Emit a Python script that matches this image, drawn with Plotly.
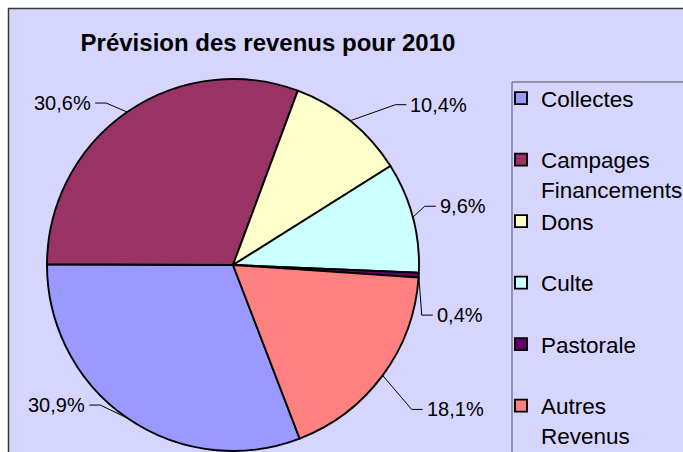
import math
import plotly.graph_objects as go

# ---- data ----
categories = ["Collectes", "Campages Financements", "Dons", "Culte", "Pastorale", "Autres Revenus"]
values = [30.9, 30.6, 10.4, 9.6, 0.4, 18.1]
title_text = "Prévision des revenus pour 2010"

# ---- style ----
colors = ["#9999FF", "#993366", "#FFFFCC", "#CCFFFF", "#660066", "#FF8080"]
legend_text = ["Collectes<br> ", "Campages<br>Financements", "Dons<br> ", "Culte<br> ",
               "Pastorale<br> ", "Autres<br>Revenus"]
# leader-line elbow offsets (px) from slice edge, like manually placed Excel labels
elbow_offsets = [(-27, -13), (-21, -9), (45, -16), (12, -11), (3, 40), (29, 34)]
W, H = 683, 452
BG = "#D5D5FD"
FONT = "Liberation Sans, Arial, sans-serif"
ROTATION = 159

# pie domain (pixels)
px_x0, px_x1, px_y0, px_y1 = 47, 419, 79, 451
cx = (px_x0 + px_x1) / 2
cy = (px_y0 + px_y1) / 2
R = min(px_x1 - px_x0, px_y1 - px_y0) / 2

fig = go.Figure(go.Pie(
    labels=legend_text,
    values=values,
    sort=False,
    direction="clockwise",
    rotation=ROTATION,
    marker=dict(colors=colors, line=dict(color="black", width=1.9)),
    textinfo="none",
    hoverinfo="label+percent",
    domain=dict(x=[px_x0 / W, px_x1 / W], y=[1 - px_y1 / H, 1 - px_y0 / H]),
))

def px2paper(x, y):
    return x / W, 1 - y / H

shapes = [
    dict(type="rect", xref="paper", yref="paper", layer="below",
         x0=8.5 / W, x1=1.05, y0=-0.05, y1=1 - 8.5 / H,
         fillcolor=BG, line=dict(color="#3a3a3a", width=1.5)),
    dict(type="rect", xref="paper", yref="paper", layer="below",
         x0=512 / W, x1=1.05, y0=-0.05, y1=1 - 82 / H,
         fillcolor="rgba(0,0,0,0)", line=dict(color="#555555", width=1)),
]
annotations = []

total = sum(values)
angle = ROTATION
for v, (ox, oy) in zip(values, elbow_offsets):
    span = v / total * 360
    mid = math.radians(angle + span / 2)
    angle += span
    ex = cx + R * math.sin(mid)
    ey = cy - R * math.cos(mid)
    bx, by = ex + ox, ey + oy
    right = math.sin(mid) > 0
    tx = bx + (11 if right else -11)
    p0 = px2paper(ex, ey)
    p1 = px2paper(bx, by)
    p2 = px2paper(tx, by)
    shapes.append(dict(type="path", xref="paper", yref="paper",
                       path=f"M{p0[0]},{p0[1]} L{p1[0]},{p1[1]} L{p2[0]},{p2[1]}",
                       line=dict(color="black", width=1)))
    pct = f"{v / total * 100:.1f}".replace(".", ",") + "%"
    lx = tx + (2 if right else -2)
    annotations.append(dict(text=pct, xref="paper", yref="paper",
                            x=lx / W, y=1 - by / H,
                            xanchor="left" if right else "right", yanchor="middle",
                            showarrow=False, font=dict(family=FONT, size=20, color="black")))

fig.update_layout(
    width=W, height=H,
    margin=dict(l=0, r=0, t=0, b=0, autoexpand=False),
    paper_bgcolor="white",
    title=dict(text=f"<b>{title_text}</b>", x=268 / W, xanchor="center", xref="paper",
               y=1 - 43 / H, yanchor="middle", yref="paper",
               font=dict(family=FONT, size=24, color="black")),
    showlegend=True,
    legend=dict(x=501 / W, y=1 - 77 / H, xanchor="left", yanchor="top",
                bgcolor="rgba(0,0,0,0)", borderwidth=0, valign="top",
                font=dict(family=FONT, size=22.5, color="black"),
                traceorder="normal", maxheight=1000),
    shapes=shapes,
    annotations=annotations,
)

fig.write_html("out.html", config={"displayModeBar": False},
               post_script="document.body.style.margin='0px';")
